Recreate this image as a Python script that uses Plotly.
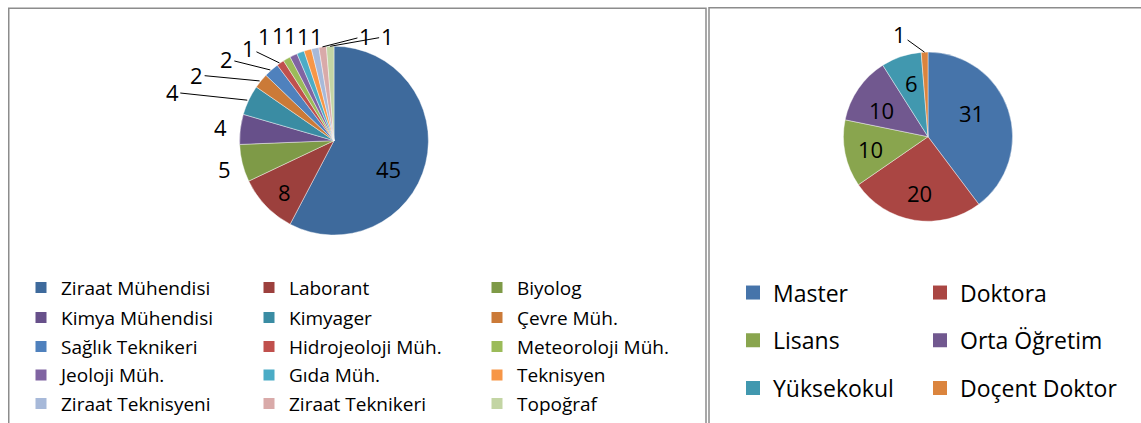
import math
import plotly.graph_objects as go

W, H = 1141, 423

# ---------------- data ----------------
left_labels = ["Ziraat Mühendisi", "Laborant", "Biyolog", "Kimya Mühendisi", "Kimyager",
               "Çevre Müh.", "Sağlık Teknikeri", "Hidrojeoloji Müh.", "Meteoroloji Müh.",
               "Jeoloji Müh.", "Gıda Müh.", "Teknisyen", "Ziraat Teknisyeni",
               "Ziraat Teknikeri", "Topoğraf"]
left_values = [45, 8, 5, 4, 4, 2, 2, 1, 1, 1, 1, 1, 1, 1, 1]

right_labels = ["Master", "Doktora", "Lisans", "Orta Öğretim", "Yüksekokul", "Doçent Doktor"]
right_values = [31, 20, 10, 10, 6, 1]

# ---------------- styles ----------------
left_colors = ["#3E6A9C", "#9C403D", "#7E9A47", "#67508A", "#3A8CA3", "#CB7A38",
               "#4F81BD", "#C0504D", "#9BBB59", "#8064A2", "#4BACC6", "#F79646",
               "#A7B9D9", "#D9AAA9", "#C3D5A4"]
right_colors = ["#4674AA", "#AA4643", "#89A54E", "#71588F", "#4198AF", "#DB843D"]

FONT = "Open Sans, Lato, Liberation Sans, sans-serif"
LABEL_SIZE = 22

# pie boxes in pixels (x0, y0, x1, y1)
LEFT_BOX = (238, 47, 430, 239)
RIGHT_BOX = (842, 53, 1014, 225)

# legend grid (pixels): left edge of each column, centre of each row
LEFT_LEG_COLS = [21, 249, 477]
LEFT_LEG_ROWS = [292.5, 323, 352.5, 381.5, 410.5]
RIGHT_LEG_COLS = [733, 920]
RIGHT_LEG_ROWS = [297.5, 346, 394.5]

# value-label placement: offset (px) from the slice's outer-edge midpoint, leader line flag
left_label_pos = [(-39, 6, False), (20, -14, False), (-16, 6, False), (-18, -2, False),
                  (-75, -8, True), (-63, -6, True), (-44, -11, True), (-31, -15, True),
                  (-21, -23, False), (-14, -20, False), (-9, -17, False), (-4, -14, False),
                  (2, -12, False), (43, -11, True), (57, -10, True)]
right_label_pos = [(-38, 3, False), (5, -27, False), (27, -5, False), (24, 21, False),
                   (11, 27, False), (-25, -18, True)]


def px(sx):
    return sx / W


def py(sy):
    return 1 - sy / H


def domain(box):
    x0, y0, x1, y1 = box
    return dict(x=[px(x0), px(x1)], y=[py(y1), py(y0)])


def value_labels(values, box, placement):
    x0, y0, x1, y1 = box
    cx, cy = (x0 + x1) / 2, (y0 + y1) / 2
    r = min(x1 - x0, y1 - y0) / 2
    total = sum(values)
    anns = []
    cum = 0
    for v, (ax, ay, leader) in zip(values, placement):
        mid = (cum + v / 2) / total * 2 * math.pi
        cum += v
        ex = cx + r * math.sin(mid)
        ey = cy - r * math.cos(mid)
        anns.append(dict(
            x=px(ex), y=py(ey), xref="paper", yref="paper",
            text=str(v), showarrow=True, ax=ax, ay=ay,
            arrowhead=0, arrowwidth=1, standoff=0,
            arrowcolor="black" if leader else "rgba(0,0,0,0)",
            font=dict(family=FONT, size=LABEL_SIZE, color="black"),
        ))
    return anns


def pie(labels, values, colors, box):
    return go.Pie(
        labels=labels, values=values, sort=False, direction="clockwise",
        rotation=0, domain=domain(box), showlegend=False,
        marker=dict(colors=colors, line=dict(color="rgba(255,255,255,0.7)", width=0.6)),
        textinfo="none",
        hoverinfo="label+value",
    )


fig = go.Figure()
fig.add_trace(pie(left_labels, left_values, left_colors, LEFT_BOX))
fig.add_trace(pie(right_labels, right_values, right_colors, RIGHT_BOX))

# legend entries: one small legend per grid cell, so rows/columns sit exactly
legends = {}
n = 0


def add_entries(labels, colors, cols, rows, size, msize):
    global n
    ncol = len(cols)
    for i, (lab, col) in enumerate(zip(labels, colors)):
        n += 1
        lid = "legend" if n == 1 else f"legend{n}"
        fig.add_trace(go.Scatter(
            x=[None], y=[None], mode="markers", name=lab,
            marker=dict(symbol="square", size=msize, color=col, line=dict(width=0)),
            legend=lid, hoverinfo="skip"))
        legends[lid] = dict(
            x=px(cols[i % ncol]), y=py(rows[i // ncol]), xanchor="left", yanchor="middle",
            orientation="v", bgcolor="rgba(0,0,0,0)", borderwidth=0,
            font=dict(family=FONT, size=size, color="black"))


add_entries(left_labels, left_colors, LEFT_LEG_COLS, LEFT_LEG_ROWS, 19, 11)
add_entries(right_labels, right_colors, RIGHT_LEG_COLS, RIGHT_LEG_ROWS, 23, 14)

frame = dict(type="rect", xref="paper", yref="paper",
             line=dict(color="#8c8c8c", width=1.5), fillcolor="rgba(0,0,0,0)", layer="below")
shapes = [
    dict(frame, x0=px(8.75), x1=px(706), y0=py(8.5), y1=-0.05),
    dict(frame, x0=px(709), x1=1.05, y0=py(8), y1=-0.05),
]

fig.update_layout(
    width=W, height=H,
    margin=dict(l=0, r=0, t=0, b=0),
    paper_bgcolor="white", plot_bgcolor="white",
    font=dict(family=FONT, color="black"),
    xaxis=dict(visible=False), yaxis=dict(visible=False),
    annotations=value_labels(left_values, LEFT_BOX, left_label_pos)
    + value_labels(right_values, RIGHT_BOX, right_label_pos),
    shapes=shapes,
    **legends,
)

# remove the page's default 8px body margin so the figure fills the window exactly
fig.write_html("out.html", config={"displayModeBar": False},
               post_script="document.body.style.margin='0px';document.body.style.overflow='hidden';")
